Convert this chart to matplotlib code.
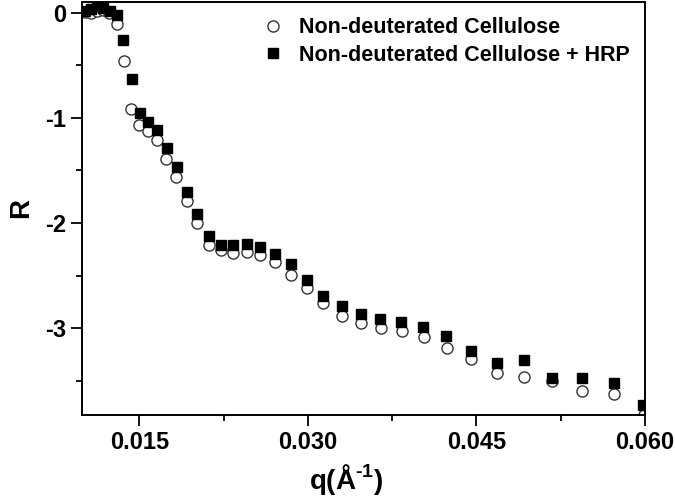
import numpy as np
import matplotlib
matplotlib.use("Agg")
import matplotlib.pyplot as plt
from matplotlib.ticker import MultipleLocator, FormatStrFormatter

plt.rcParams['font.family'] = ['Liberation Sans', 'DejaVu Sans']
plt.rcParams['font.weight'] = 'bold'
plt.rcParams['axes.unicode_minus'] = False
plt.rcParams['mathtext.fontset'] = 'custom'
plt.rcParams['mathtext.rm'] = 'Liberation Sans:bold'
plt.rcParams['mathtext.bf'] = 'Liberation Sans:bold'

# Non-deuterated Cellulose (open circles)
q_cell = [0.01019, 0.01073, 0.01126, 0.01180, 0.01233, 0.01304, 0.01366, 0.01429,
          0.01500, 0.01580, 0.01660, 0.01740, 0.01829, 0.01927, 0.02016, 0.02123,
          0.02230, 0.02337, 0.02461, 0.02577, 0.02711, 0.02853, 0.02996, 0.03138,
          0.03307, 0.03476, 0.03654, 0.03841, 0.04037, 0.04242, 0.04456, 0.04687,
          0.04927, 0.05177, 0.05444, 0.05720, 0.05990]
r_cell = [0.003, -0.007, 0.012, 0.022, -0.007, -0.111, -0.464, -0.921,
          -1.073, -1.130, -1.216, -1.388, -1.568, -1.788, -1.997, -2.207,
          -2.254, -2.283, -2.273, -2.302, -2.368, -2.492, -2.616, -2.759,
          -2.883, -2.949, -2.997, -3.026, -3.083, -3.188, -3.292, -3.426,
          -3.464, -3.502, -3.597, -3.626, -3.826]

# Non-deuterated Cellulose + HRP (filled squares)
q_hrp = [0.01019, 0.01073, 0.01126, 0.01180, 0.01242, 0.01304, 0.01358, 0.01438,
         0.01509, 0.01580, 0.01660, 0.01749, 0.01838, 0.01927, 0.02016, 0.02123,
         0.02230, 0.02337, 0.02461, 0.02577, 0.02711, 0.02853, 0.02996, 0.03138,
         0.03307, 0.03476, 0.03645, 0.03832, 0.04028, 0.04233, 0.04456, 0.04687,
         0.04927, 0.05177, 0.05444, 0.05720, 0.05980]
r_hrp = [0.012, 0.031, 0.060, 0.041, 0.012, -0.026, -0.264, -0.635,
         -0.959, -1.045, -1.121, -1.292, -1.473, -1.702, -1.911, -2.121,
         -2.207, -2.207, -2.197, -2.226, -2.292, -2.388, -2.540, -2.692,
         -2.787, -2.863, -2.911, -2.940, -2.987, -3.073, -3.216, -3.330,
         -3.302, -3.473, -3.473, -3.521, -3.730]

fig = plt.figure(figsize=(6.75, 5), dpi=100)
ax = fig.add_axes([0.1215, 0.17, 0.834, 0.826])

ax.plot(q_cell, r_cell, 'o', ls='none', ms=8, mfc='white', mec='#333333', mew=1.0,
        label='Non-deuterated Cellulose')
ax.plot(q_hrp, r_hrp, 's', ls='none', ms=7.2, mfc='black', mec='black',
        label='Non-deuterated Cellulose + HRP')

ax.set_xlim(0.0099, 0.0600)
ax.set_ylim(-3.826, 0.1)

ax.xaxis.set_major_locator(MultipleLocator(0.015))
ax.xaxis.set_minor_locator(MultipleLocator(0.0075))
ax.xaxis.set_major_formatter(FormatStrFormatter('%.3f'))
ax.yaxis.set_major_locator(MultipleLocator(1))
ax.yaxis.set_minor_locator(MultipleLocator(0.5))
ax.yaxis.set_major_formatter(FormatStrFormatter('%d'))

ax.tick_params(which='major', direction='out', length=8, width=1.3, labelsize=17)
ax.tick_params(which='minor', direction='out', length=4, width=1.3)
ax.tick_params(top=False, right=False, which='both')
for s in ax.spines.values():
    s.set_linewidth(1.4)

ax.set_xlabel(r'q(Å$^{\text{-1}}$)', fontsize=20, fontweight='bold')
ax.xaxis.set_label_coords(0.469, -0.113)
ax.set_ylabel('R', fontsize=20, fontweight='bold', labelpad=8)

ax.legend(loc='upper right', frameon=False, fontsize=15.5, handletextpad=0.6,
          borderaxespad=0.3, labelspacing=0.3, handlelength=1.2)

fig.savefig('out.png', dpi=100)
